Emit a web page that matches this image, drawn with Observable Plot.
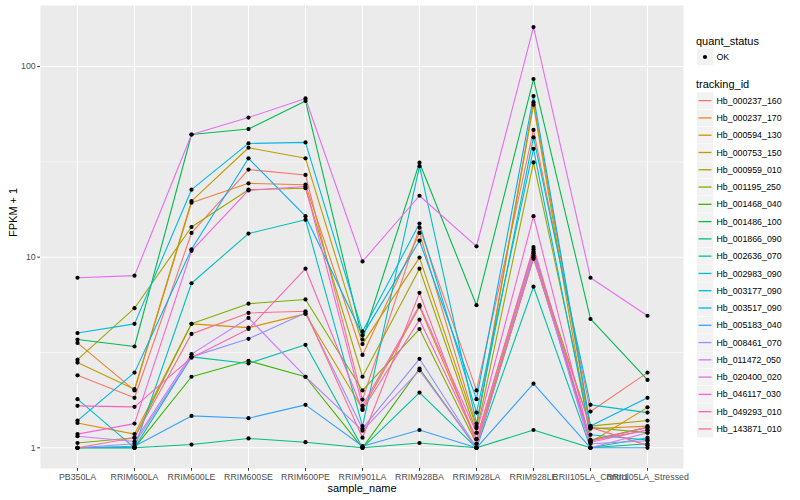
<!DOCTYPE html>
<html>
<head>
<meta charset="utf-8">
<script src="https://cdn.jsdelivr.net/npm/d3@7"></script>
<script src="https://cdn.jsdelivr.net/npm/@observablehq/plot@0.6"></script>
<style>
  body { margin: 0; background: white; }
  #wrap { position: relative; width: 800px; height: 500px; font-family: "Liberation Sans", Arial, Helvetica, sans-serif; }
  #wrap svg { position: absolute; left: 0; top: 0; }
</style>
</head>
<body>
<div id="wrap"></div>
<script>
const samples = ["PB350LA","RRIM600LA","RRIM600LE","RRIM600SE","RRIM600PE","RRIM901LA","RRIM928BA","RRIM928LA","RRIM928LE","RRII105LA_Control","RRII105LA_Stressed"];
const trackingIds = ["Hb_000237_160","Hb_000237_170","Hb_000594_130","Hb_000753_150","Hb_000959_010","Hb_001195_250","Hb_001468_040","Hb_001486_100","Hb_001866_090","Hb_002636_070","Hb_002983_090","Hb_003177_090","Hb_003517_090","Hb_005183_040","Hb_008461_070","Hb_011472_050","Hb_020400_020","Hb_046117_030","Hb_049293_010","Hb_143871_010"];
const palette = ["#F8766D","#EA8331","#D89000","#C09B00","#A3A500","#7CAE00","#39B600","#00BB4E","#00BF7D","#00C1A3","#00BFC4","#00BAE0","#00B0F6","#35A2FF","#9590FF","#C77CFF","#E76BF3","#FA62DB","#FF62BC","#FF6C91"];
const quantStatus = ["OK"];
const yTicks = [1, 10, 100];
const yMinorTicks = [3.1623, 31.623];

// FPKM + 1 per sample, in sample order
const hb_000237_160 = [2.4, 1.83, 13.4, 28.8, 27, 1.79, 14.3, 2.0, 46.5, 1.55, 2.48];
const hb_000237_170 = [3.55, 2.0, 19.3, 24.4, 24, 3.07, 13.4, 1.3, 65, 1.26, 1.3];
const hb_000594_130 = [1.35, 1.18, 4.47, 4.27, 5.04, 1.6, 5.5, 1.11, 11, 1.07, 1.63];
const hb_000753_150 = [2.8, 2.03, 19.7, 37.5, 33, 3.5, 9.95, 1.27, 63, 1.09, 1.24];
const hb_000959_010 = [2.9, 5.4, 14.4, 22.6, 23, 2.36, 8.7, 1.2, 31.4, 1.3, 1.39];
const hb_001195_250 = [1.06, 1.13, 4.47, 5.7, 6.0, 2.0, 4.2, 1.05, 10.5, 1.28, 1.2];
const hb_001468_040 = [1.0, 1.0, 2.36, 2.86, 2.36, 1.0, 2.6, 1.0, 10, 1.1, 1.28];
const hb_001486_100 = [3.7, 3.4, 44, 47, 66, 3.7, 31.3, 5.6, 86, 4.74, 2.27];
const hb_001866_090 = [1.0, 1.0, 1.04, 1.12, 1.07, 1.0, 1.06, 1.0, 1.24, 1.0, 1.05];
const hb_002636_070 = [1.0, 1.0, 3.0, 2.77, 3.47, 1.0, 1.95, 1.0, 7.0, 1.0, 1.13];
const hb_002983_090 = [1.8, 1.0, 7.3, 13.3, 15.7, 1.3, 30, 1.34, 42.5, 1.68, 1.53];
const hb_003177_090 = [4.0, 4.47, 22.6, 39.5, 40, 4.08, 15, 1.53, 37, 1.17, 1.1];
const hb_003517_090 = [1.39, 2.48, 11.0, 33, 16.4, 3.9, 12.2, 1.8, 70, 1.3, 1.83];
const hb_005183_040 = [1.0, 1.02, 1.47, 1.43, 1.68, 1.02, 1.24, 1.0, 2.17, 1.0, 1.0];
const hb_008461_070 = [1.0, 1.05, 3.0, 3.73, 5.1, 1.26, 2.93, 1.0, 10.2, 1.05, 1.09];
const hb_011472_050 = [1.15, 1.08, 3.1, 4.8, 2.36, 1.23, 2.55, 1.0, 10.7, 1.0, 1.2];
const hb_020400_020 = [7.8, 8.0, 44, 54, 68, 9.5, 21, 11.4, 161, 7.8, 4.93];
const hb_046117_030 = [1.18, 1.34, 10.8, 22.4, 23.5, 1.66, 5.6, 1.2, 16.4, 1.07, 1.24];
const hb_049293_010 = [1.66, 1.64, 2.97, 4.2, 8.7, 1.58, 4.7, 1.11, 11.3, 1.09, 1.28];
const hb_143871_010 = [1.0, 1.13, 3.96, 5.1, 5.2, 1.13, 6.5, 1.05, 9.8, 1.28, 1.03];

const seriesValues = [hb_000237_160, hb_000237_170, hb_000594_130, hb_000753_150, hb_000959_010, hb_001195_250, hb_001468_040, hb_001486_100, hb_001866_090, hb_002636_070, hb_002983_090, hb_003177_090, hb_003517_090, hb_005183_040, hb_008461_070, hb_011472_050, hb_020400_020, hb_046117_030, hb_049293_010, hb_143871_010];

const data = [];
trackingIds.forEach((id, i) => {
  samples.forEach((s, j) => {
    data.push({tracking_id: id, sample_name: s, value: seriesValues[i][j], quant_status: quantStatus[0]});
  });
});

const font = '"Liberation Sans", Arial, Helvetica, sans-serif';

const chart = Plot.plot({
  width: 800,
  height: 500,
  marginLeft: 40,
  marginRight: 117,
  marginTop: 5,
  marginBottom: 32,
  style: {fontFamily: font, background: "white", overflow: "visible"},
  x: {type: "point", domain: samples, padding: 0.6},
  y: {type: "log", domain: [0.779, 209]},
  color: {domain: trackingIds, range: palette},
  marks: [
    Plot.frame({fill: "#EBEBEB", stroke: null}),
    Plot.gridY(yMinorTicks, {stroke: "white", strokeOpacity: 1, strokeWidth: 0.55}),
    Plot.gridY(yTicks, {stroke: "white", strokeOpacity: 1, strokeWidth: 1.1}),
    Plot.gridX(samples, {stroke: "white", strokeOpacity: 1, strokeWidth: 1.1}),
    Plot.line(data, {x: "sample_name", y: "value", z: "tracking_id", stroke: "tracking_id", strokeWidth: 1.1}),
    Plot.dot(data, {x: "sample_name", y: "value", r: 2.1, fill: "black", stroke: null}),
    Plot.axisY(yTicks, {tickSize: 2.75, tickPadding: 2, tickFormat: d => String(d), fontSize: 8.8, color: "#4D4D4D", stroke: "#333333", label: null}),
    Plot.axisX({tickSize: 2.75, tickPadding: 2, fontSize: 8.8, color: "#4D4D4D", stroke: "#333333", label: null}),
    Plot.text(["sample_name"], {frameAnchor: "bottom", dy: 23, fontSize: 11, fill: "black"}),
    Plot.text(["FPKM + 1"], {frameAnchor: "left", dx: -27, rotate: -90, fontSize: 11, fill: "black"})
  ]
});

const wrap = document.getElementById("wrap");
wrap.appendChild(chart);

// Legend drawn in an overlay SVG
const lg = d3.select(wrap).append("svg")
  .attr("width", 800).attr("height", 500)
  .style("pointer-events", "none")
  .attr("font-family", font);

lg.append("text").attr("x", 696).attr("y", 44.5).attr("font-size", 11).text("quant_status");
lg.append("rect").attr("x", 697).attr("y", 48.5).attr("width", 16.3).attr("height", 16.8).attr("fill", "#F2F2F2");
lg.append("circle").attr("cx", 705).attr("cy", 57).attr("r", 2.1).attr("fill", "black");
lg.append("text").attr("x", 716.5).attr("y", 60).attr("font-size", 8.8).text(quantStatus[0]);

lg.append("text").attr("x", 696).attr("y", 88).attr("font-size", 11).text("tracking_id");
const row = 17.28, top0 = 92.3;
const keys = lg.selectAll("g.key").data(trackingIds).join("g").attr("class", "key")
  .attr("transform", (d, i) => `translate(0,${top0 + i * row})`);
keys.append("rect").attr("x", 697).attr("y", 0).attr("width", 16.3).attr("height", row - 0.6).attr("fill", "#F2F2F2");
keys.append("line").attr("x1", 698.5).attr("x2", 711.5).attr("y1", row / 2 - 0.3).attr("y2", row / 2 - 0.3)
  .attr("stroke", (d, i) => palette[i]).attr("stroke-width", 1.3);
keys.append("text").attr("x", 716.5).attr("y", row / 2 + 2.8).attr("font-size", 8.8).text(d => d);
</script>
</body>
</html>
